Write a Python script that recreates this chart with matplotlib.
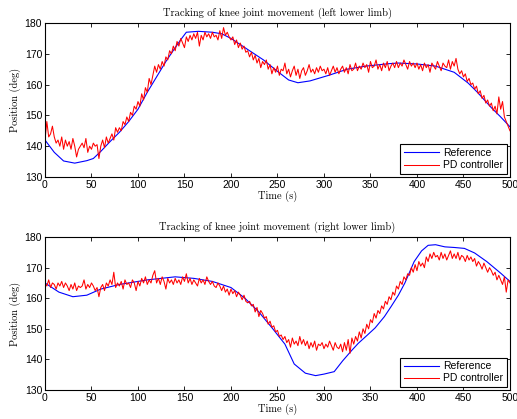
import matplotlib.pyplot as plt
import numpy as np

# --- data ---
# reference trajectories, key points (time s, angle deg)
ref_left_t = [0, 10, 20, 32, 45, 52, 60, 70, 80, 90, 100, 110, 120, 130, 140, 147, 152, 165,
              180, 190, 200, 215, 235, 250, 262, 272, 285, 305, 325, 345, 370, 380, 400,
              420, 440, 455, 465, 480, 490, 500]
ref_left_y = [142, 138, 135.2, 134.5, 135.3, 136, 138.3, 141.5, 144.5, 148, 152, 157.5, 162.5,
              167.5, 172, 175, 177, 177.3, 177, 176.5, 175, 172, 168, 164.3, 161.5, 160.6,
              161.2, 163, 165, 166, 166.8, 167, 166.7, 166, 164, 160.5, 157.5, 152.5,
              149.5, 146.3]

ref_right_t = [0, 15, 30, 45, 60, 80, 110, 140, 160, 180, 200, 215, 230, 245, 258, 268, 280,
               291, 300, 311, 320, 330, 337, 345, 355, 365, 372, 380, 387, 397, 405, 412,
               420, 430, 440, 451, 462, 475, 490, 500]
ref_right_y = [165, 162, 160.5, 161, 163, 164.5, 166, 167, 166.5, 165.5, 163.5, 160, 155.5,
               150, 145, 138.5, 135.5, 134.7, 135.2, 136, 139.5, 143, 145.3, 147.5, 150.3,
               154, 157.2, 161, 165, 172, 175.5, 177.3, 177.5, 176.8, 176.6, 176.3, 174.8,
               172, 168.2, 165.5]

# PD controller output, sampled every 2 s
pd_t = np.arange(0, 501, 2)
pd_left = [
    142, 148, 143, 144, 146.5, 143, 141, 142, 140, 143,
    139, 142, 140, 141.5, 139, 142.5, 140, 136.5, 139, 140,
    141, 139.5, 142.5, 138, 140, 139, 141, 140, 140.5, 136,
    140, 142, 139.5, 143, 141, 142.5, 144, 142, 146, 144.5,
    146, 145, 148, 147, 149.5, 148, 151, 150, 153, 152,
    154.5, 153, 157, 155, 159, 157.5, 162, 160, 163, 166,
    164, 166.5, 165, 167.5, 166, 169, 168, 171, 170, 172.5,
    171, 174, 172.5, 175, 173.5, 172, 175.5, 174, 176, 174.5,
    176.5, 175, 177, 172.5, 176, 174.5, 177, 175.5, 176.5, 175,
    177, 175.5, 176, 174.5, 177.5, 175, 178.5, 176, 177, 175.5,
    174.5, 175.5, 173, 174.5, 172, 173.5, 171.5, 172.5, 170.5, 171,
    169, 170.5, 168, 169.5, 167, 168.5, 165.5, 167.5, 166.5, 168,
    165, 166.5, 163.5, 165.5, 164, 166, 163, 165, 164.5, 167,
    163.5, 165, 162.5, 164.5, 166, 163, 165, 162, 164.5, 165.5,
    163, 164.5, 166.5, 164, 165, 163.5, 165.5, 164, 166, 164.5,
    165, 163.5, 165.5, 163, 164.5, 166, 164, 165.5, 163.5, 165,
    166, 164, 165.5, 163.5, 166.5, 164.5, 165, 167, 164.5, 166,
    165, 167, 165.5, 166.5, 164, 167.5, 165.5, 166, 168, 165,
    166.5, 164.5, 167, 165.5, 167.5, 164.5, 166, 167, 165.5, 167.5,
    165.5, 167, 166, 168, 166.5, 165, 167.5, 166, 167, 165.5,
    167, 165, 166.5, 164.5, 167, 165.5, 166.5, 164, 167, 166,
    165, 167.5, 166, 164.5, 167, 166, 165.5, 168, 165, 167.5,
    166, 168.5, 165, 163.5, 164.5, 162.5, 163.5, 161, 162, 160,
    160.5, 158.5, 159.5, 157, 158, 155.5, 156.5, 154, 155, 153,
    154, 151.5, 153, 150.5, 156, 152, 154.5, 149.5, 148, 146.5,
    145,
]
pd_right = [
    165, 164, 166, 163.5, 165, 164.5, 163, 165, 164, 165.5,
    163.5, 165, 164, 162.5, 164.5, 163, 165, 162.5, 164, 163.5,
    164, 166, 163, 164.5, 163.5, 165, 164, 162.5, 163.5, 160.5,
    163.5, 164.5, 162.5, 165, 164, 166, 164.5, 168.5, 163.5, 165,
    164, 165.5, 163, 166, 164.5, 165, 163.5, 166, 165, 162.5,
    165.5, 164, 166.5, 165, 167, 164.5, 166, 165, 167.5, 169,
    165, 166.5, 164.5, 167, 165.5, 163, 166.5, 165, 166, 164.5,
    166.5, 165, 166, 164.5, 167, 165.5, 168, 165, 166.5, 164.5,
    166, 165, 164, 166.5, 165, 166, 164.5, 167, 165.5, 164.5,
    165.5, 164, 163.5, 165, 164, 162.5, 164, 162, 163, 161,
    163, 161.5, 162.5, 160.5, 162, 161, 159.5, 161, 159, 158.5,
    159, 157.5, 158, 155.5, 157, 154, 156, 155, 153.5, 154,
    151.5, 152.5, 150.5, 151, 149, 149.5, 147.5, 148, 146.5, 147.5,
    145.5, 146.5, 144, 147, 145, 146, 144.5, 147.5, 145, 146.5,
    144.5, 146, 143.5, 145.5, 144, 146, 143, 145, 144.5, 145.5,
    143.5, 145, 144, 146, 144.5, 143, 145.5, 144, 143.5, 145,
    142.5, 145.5, 143, 146.5, 142, 147, 145, 147.5, 146, 149,
    147, 150, 148.5, 151.5, 150, 153, 152, 155, 153.5, 156,
    155, 157.5, 156.5, 159, 158, 160.5, 159.5, 162, 161, 164,
    163, 165.5, 164.5, 167, 166, 168, 167.5, 170, 168.5, 171,
    169, 172, 170.5, 171.5, 170, 173.5, 172, 174.5, 173, 175,
    173.5, 174, 172.5, 175, 173, 174.5, 172.5, 174, 175.5, 173,
    174.5, 173, 175, 172.5, 174, 173.5, 172, 174, 172.5, 173.5,
    172, 173, 170.5, 172, 171, 169.5, 171.5, 170, 168.5, 170,
    169, 167.5, 168.5, 166, 167.5, 166, 164.5, 167, 162, 166,
    165,
]

titles = ["Tracking of knee joint movement (left lower limb)",
          "Tracking of knee joint movement (right lower limb)"]

serif = "cmr10"
plt.rcParams['font.family'] = ['Liberation Sans', 'DejaVu Sans']

fig = plt.figure(figsize=(5.17, 4.19), dpi=100)
ax1 = fig.add_axes([0.087, 0.5776, 0.8994, 0.3675])
ax2 = fig.add_axes([0.087, 0.0692, 0.8994, 0.365])

panels = [(ax1, ref_left_t, ref_left_y, pd_left, titles[0]),
          (ax2, ref_right_t, ref_right_y, pd_right, titles[1])]

for ax, rt, ry, pd, title in panels:
    ax.plot(rt, ry, color='#0000ff', lw=0.8, label='Reference')
    ax.plot(pd_t, pd, color='#ff0000', lw=0.75, label='PD controller')
    ax.set_xlim(0, 500)
    ax.set_ylim(130, 180)
    ax.set_xticks(np.arange(0, 501, 50))
    ax.set_yticks(np.arange(130, 181, 10))
    ax.tick_params(direction='in', top=True, right=True, labelsize=7.5,
                   length=3, width=0.6, pad=2)
    for s in ax.spines.values():
        s.set_linewidth(0.8)
    ax.set_title(title, fontsize=7.5, family=serif, pad=5)
    ax.set_xlabel('Time (s)', fontsize=7.5, family=serif, labelpad=1)
    ax.set_ylabel('Position (deg)', fontsize=7.5, family=serif, labelpad=3)
    leg = ax.legend(loc='lower right', fontsize=7.5, fancybox=False, framealpha=1,
                    edgecolor='black', borderaxespad=0.3, handlelength=3.4,
                    borderpad=0.35, labelspacing=0.2, handletextpad=0.4)
    leg.get_frame().set_linewidth(0.8)

fig.savefig('out.png', dpi=100)
